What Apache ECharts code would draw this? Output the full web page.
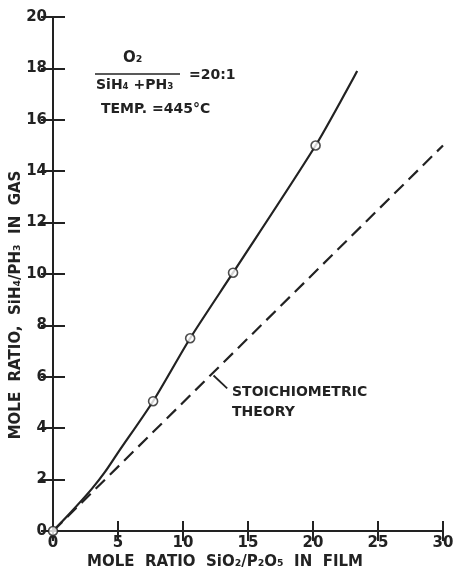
<!DOCTYPE html>
<html>
<head>
<meta charset="utf-8">
<script src="https://cdn.jsdelivr.net/npm/echarts@6/dist/echarts.min.js"></script>
<style>
  html, body { margin: 0; padding: 0; background: #fff; }
  #chart { width: 459px; height: 572px; }
</style>
</head>
<body>
<div id="chart"></div>
<script>
// Measured film/gas ratios (open circles)
const filmRatio = [0, 7.7, 10.55, 13.85, 20.2];
const gasRatio = [0, 5.05, 7.5, 10.05, 15.0];

// Smooth curve drawn through the measurements
const curveFilm = [0, 1.5, 3.0, 4.0, 5.0, 7.7, 10.55, 13.85, 20.2, 23.4];
const curveGas = [0, 0.8, 1.65, 2.3, 3.05, 5.05, 7.5, 10.05, 15.0, 17.9];

// Stoichiometric theory line
const theoryFilm = [0, 30];
const theoryGas = [0, 15];

// Axis ranges and ticks
const xTicks = { min: 0, max: 30, step: 5 };
const yTicks = { min: 0, max: 20, step: 2 };

const ink = '#222';
const font = 'DejaVu Sans';

const zip = (a, b) => a.map((v, i) => [v, b[i]]);

const chart = echarts.init(document.getElementById('chart'), null, { renderer: 'canvas' });

const baseAxis = {
  axisLine: { show: true, lineStyle: { color: ink, width: 2 } },
  splitLine: { show: false },
};

chart.setOption({
  animation: false,
  backgroundColor: '#fff',
  grid: { left: 53, right: 16, top: 17, bottom: 41, containLabel: false, outerBoundsMode: 'none' },
  xAxis: [
    Object.assign({}, baseAxis, {
      type: 'value', position: 'bottom',
      min: xTicks.min, max: xTicks.max, interval: xTicks.step,
      axisTick: { inside: true, length: 10, lineStyle: { color: ink, width: 2 } },
      axisLabel: { margin: 5, color: ink, fontFamily: font, fontWeight: 'bold', fontSize: 15 },
      name: 'MOLE  RATIO  SiO₂/P₂O₅  IN  FILM',
      nameLocation: 'middle', nameGap: 24, nameMoveOverlap: false,
      nameTextStyle: { color: ink, fontFamily: font, fontWeight: 'bold', fontSize: 15, padding: [0, 46, 0, 0] }
    }),
    Object.assign({}, baseAxis, {
      type: 'value', position: 'top',
      min: xTicks.min, max: xTicks.max, interval: xTicks.step,
      axisTick: { inside: true, length: 10, lineStyle: { color: ink, width: 2 } },
      axisLabel: { show: false }
    })
  ],
  yAxis: [
    Object.assign({}, baseAxis, {
      type: 'value', position: 'left',
      min: yTicks.min, max: yTicks.max, interval: yTicks.step,
      axisTick: { inside: true, length: 12, lineStyle: { color: ink, width: 2 } },
      axisLabel: { margin: 6, color: ink, fontFamily: font, fontWeight: 'bold', fontSize: 15 },
      name: 'MOLE  RATIO,  SiH₄/PH₃  IN  GAS',
      nameLocation: 'middle', nameGap: 29, nameRotate: 90, nameMoveOverlap: false,
      nameTextStyle: { color: ink, fontFamily: font, fontWeight: 'bold', fontSize: 15, padding: [0, 62, 0, 0] }
    }),
    Object.assign({}, baseAxis, {
      type: 'value', position: 'right',
      min: yTicks.min, max: yTicks.max, interval: yTicks.step,
      axisTick: { inside: true, length: 12, lineStyle: { color: ink, width: 2 } },
      axisLabel: { show: false }
    })
  ],
  series: [
    {
      name: 'theory', type: 'line',
      data: zip(theoryFilm, theoryGas),
      showSymbol: false, symbol: 'none',
      lineStyle: { color: ink, width: 2.2, type: [13, 7] },
      markLine: {
        silent: true,
        symbol: ['none', 'arrow'], symbolSize: [0, 9],
        label: { show: false },
        lineStyle: { color: ink, width: 1.8, type: 'solid' },
        data: [[{ coord: [13.4, 5.55] }, { coord: [12.35, 6.05] }]]
      }
    },
    {
      name: 'fit', type: 'line',
      data: zip(curveFilm, curveGas),
      smooth: 0.25, showSymbol: false, symbol: 'none',
      lineStyle: { color: ink, width: 2.2 }
    },
    {
      name: 'measured', type: 'scatter',
      data: zip(filmRatio, gasRatio),
      symbol: 'circle', symbolSize: 9, z: 5,
      itemStyle: { color: '#fff', borderColor: ink, borderWidth: 1.6 }
    }
  ],
  graphic: [
    { type: 'text', left: 123, top: 51, style: { text: 'O₂', fill: ink, font: 'bold 15px "DejaVu Sans"' } },
    { type: 'line', shape: { x1: 95, y1: 74, x2: 180, y2: 74 }, style: { stroke: ink, lineWidth: 1.6 } },
    { type: 'text', left: 96, top: 78, style: { text: 'SiH₄ +PH₃', fill: ink, font: 'bold 14px "DejaVu Sans"' } },
    { type: 'text', left: 189, top: 68, style: { text: '=20:1', fill: ink, font: 'bold 14px "DejaVu Sans"' } },
    { type: 'text', left: 101, top: 102, style: { text: 'TEMP. =445°C', fill: ink, font: 'bold 14px "DejaVu Sans"' } },
    { type: 'text', left: 232, top: 385, style: { text: 'STOICHIOMETRIC', fill: ink, font: 'bold 14px "DejaVu Sans"' } },
    { type: 'text', left: 232, top: 405, style: { text: 'THEORY', fill: ink, font: 'bold 14px "DejaVu Sans"' } }
  ]
});
</script>
</body>
</html>
